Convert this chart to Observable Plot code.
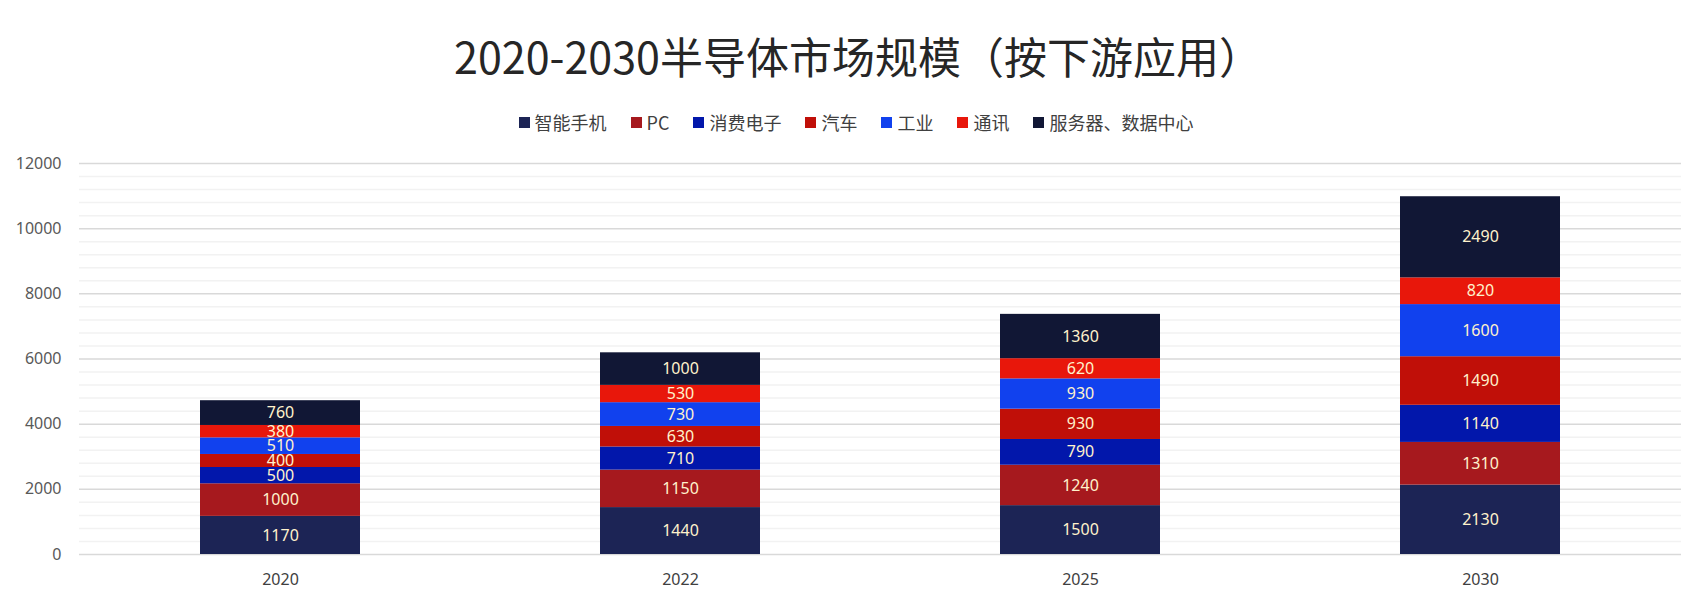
<!DOCTYPE html>
<html>
<head>
<meta charset="utf-8">
<script src="https://cdn.jsdelivr.net/npm/d3@7"></script>
<script src="https://cdn.jsdelivr.net/npm/@observablehq/plot@0.6"></script>
<style>
  html, body { margin: 0; padding: 0; background: #fff; }
  #wrap { width: 1704px; height: 603px; position: relative; overflow: hidden; }
  #header { position: relative; width: 1704px; height: 145px; }
  #title { position: absolute; left: 0; width: 1704px; top: 34px; text-align: center;
    font-family: "Noto Sans CJK SC", sans-serif; font-size: 43px; line-height: 43px; color: #262626;
    transform: translateX(6px); }
  #legend { position: absolute; left: 0; width: 1704px; top: 110px; height: 24px; display: flex;
    justify-content: center; align-items: center; font-family: "Noto Sans CJK SC", sans-serif;
    font-size: 18px; color: #404040; transform: translateX(4px); }
  .item { display: flex; align-items: center; margin: 0 12px; }
  .sw { width: 11px; height: 11px; margin-right: 5px; }
  #chart svg { display: block; }
</style>
</head>
<body>
<div id="wrap">
  <div id="header">
    <div id="title"></div>
    <div id="legend"></div>
  </div>
  <div id="chart"></div>
</div>
<script>
const titleText = "2020-2030半导体市场规模（按下游应用）";
const years = ["2020", "2022", "2025", "2030"];
const seriesNames = ["智能手机", "PC", "消费电子", "汽车", "工业", "通讯", "服务器、数据中心"];
const seriesColors = ["#1c2455", "#a6191e", "#0217ab", "#c00f08", "#1141ee", "#e8170b", "#111735"];
const smartphone = [1170, 1440, 1500, 2130];
const pc = [1000, 1150, 1240, 1310];
const consumer = [500, 710, 790, 1140];
const auto = [400, 630, 930, 1490];
const industrial = [510, 730, 930, 1600];
const telecom = [380, 530, 620, 820];
const server = [760, 1000, 1360, 2490];
const yTicks = [0, 2000, 4000, 6000, 8000, 10000, 12000];
const minorTicks = [400, 800, 1200, 1600, 2400, 2800, 3200, 3600, 4400, 4800, 5200, 5600,
  6400, 6800, 7200, 7600, 8400, 8800, 9200, 9600, 10400, 10800, 11200, 11600];

const seriesValues = [smartphone, pc, consumer, auto, industrial, telecom, server];
const data = [];
seriesNames.forEach((s, i) => {
  years.forEach((y, j) => data.push({year: y, series: s, value: seriesValues[i][j]}));
});

document.getElementById("title").textContent = titleText;
const legend = document.getElementById("legend");
seriesNames.forEach((s, i) => {
  const it = document.createElement("div");
  it.className = "item";
  const sw = document.createElement("div");
  sw.className = "sw";
  sw.style.background = seriesColors[i];
  const t = document.createElement("span");
  t.textContent = s;
  it.appendChild(sw); it.appendChild(t);
  legend.appendChild(it);
});

const stackOpts = {x: "year", y: "value", z: "series", order: seriesNames};

const chart = Plot.plot({
  width: 1704,
  height: 458,
  marginTop: 18,
  marginBottom: 49,
  marginLeft: 79,
  marginRight: 23,
  style: {fontFamily: "'Noto Sans', sans-serif", fontSize: "16px", color: "#595959", background: "#fff"},
  x: {domain: years, paddingInner: 0.6, paddingOuter: 0.3, label: null},
  y: {domain: [0, 12000], label: null},
  color: {domain: seriesNames, range: seriesColors},
  marks: [
    Plot.ruleY(minorTicks, {stroke: "#f2f2f2", strokeWidth: 1.5}),
    Plot.ruleY(yTicks, {stroke: "#d9d9d9", strokeWidth: 1.5}),
    Plot.axisY(yTicks, {tickSize: 0, tickPadding: 18, fontSize: 16, fill: "#595959", label: null, tickFormat: d => String(d)}),
    Plot.axisX({tickSize: 0, tickPadding: 19, fontSize: 16, fill: "#404040", label: null}),
    Plot.barY(data, Plot.stackY({...stackOpts, fill: "series"})),
    Plot.text(data, Plot.stackY({...stackOpts, text: d => String(d.value), fill: "#fff2cc", fontSize: 16}))
  ]
});
document.getElementById("chart").appendChild(chart);
</script>
</body>
</html>
